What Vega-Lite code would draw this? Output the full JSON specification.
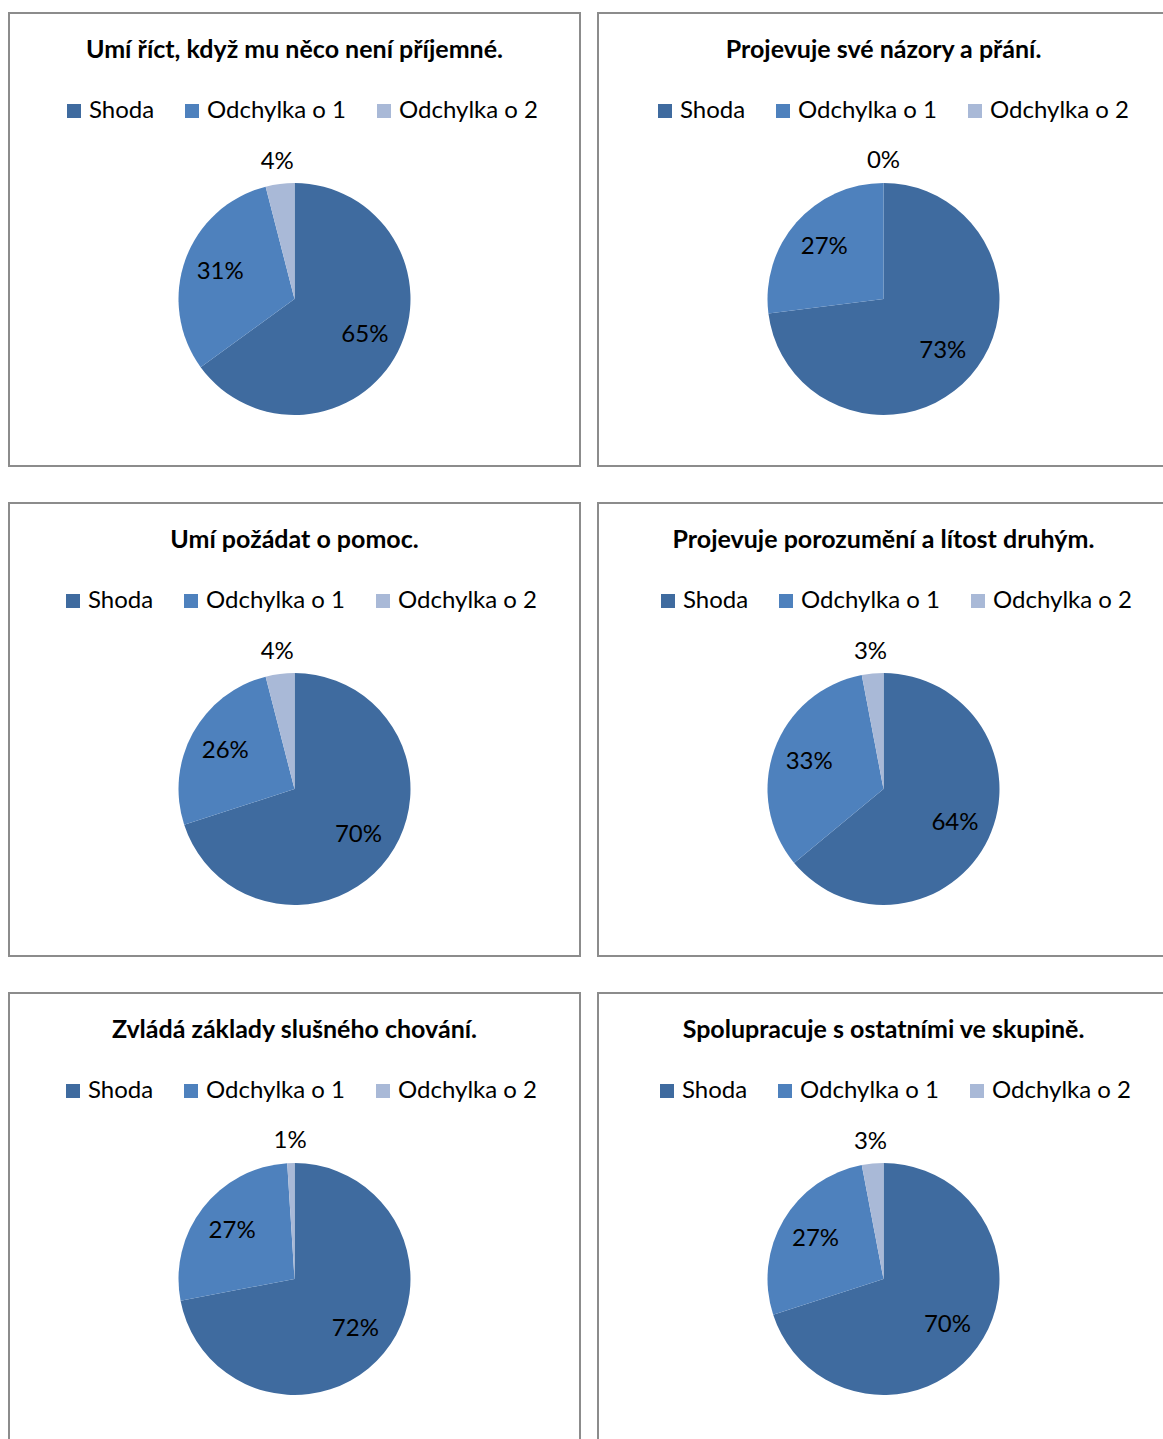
{
  "$schema": "https://vega.github.io/schema/vega-lite/v6.json",
  "padding": {"left": 8, "top": 12, "right": 0, "bottom": 0},
  "background": "white",
  "datasets": {
    "pies": [
      {"q": 1, "category": "Shoda", "rank": 1, "share": 0.65},
      {"q": 1, "category": "Odchylka o 1", "rank": 2, "share": 0.31},
      {"q": 1, "category": "Odchylka o 2", "rank": 3, "share": 0.04},
      {"q": 2, "category": "Shoda", "rank": 1, "share": 0.73},
      {"q": 2, "category": "Odchylka o 1", "rank": 2, "share": 0.27},
      {"q": 2, "category": "Odchylka o 2", "rank": 3, "share": 0.0},
      {"q": 3, "category": "Shoda", "rank": 1, "share": 0.70},
      {"q": 3, "category": "Odchylka o 1", "rank": 2, "share": 0.26},
      {"q": 3, "category": "Odchylka o 2", "rank": 3, "share": 0.04},
      {"q": 4, "category": "Shoda", "rank": 1, "share": 0.64},
      {"q": 4, "category": "Odchylka o 1", "rank": 2, "share": 0.33},
      {"q": 4, "category": "Odchylka o 2", "rank": 3, "share": 0.03},
      {"q": 5, "category": "Shoda", "rank": 1, "share": 0.72},
      {"q": 5, "category": "Odchylka o 1", "rank": 2, "share": 0.27},
      {"q": 5, "category": "Odchylka o 2", "rank": 3, "share": 0.01},
      {"q": 6, "category": "Shoda", "rank": 1, "share": 0.70},
      {"q": 6, "category": "Odchylka o 1", "rank": 2, "share": 0.27},
      {"q": 6, "category": "Odchylka o 2", "rank": 3, "share": 0.03}
    ]
  },
  "columns": 2,
  "spacing": {"row": 35, "column": 16},
  "resolve": {"legend": {"color": "independent"}},
  "concat": [
    {
      "title": "Umí říct, když mu něco není příjemné.",
      "width": 571, "height": 453,
      "view": {"stroke": "#8C8C8C", "strokeWidth": 2, "fill": "white"},
      "data": {"name": "pies"},
      "transform": [{"filter": "datum.q == 1"}],
      "encoding": {
        "theta": {"field": "share", "type": "quantitative", "stack": true},
        "order": {"field": "rank", "type": "quantitative"},
        "color": {"field": "category", "type": "nominal", "scale": {"domain": ["Shoda", "Odchylka o 1", "Odchylka o 2"], "range": ["#3F6B9F", "#4E81BD", "#A9B9D7"]}, "legend": {"orient": "none", "legendX": 53, "legendY": 86, "direction": "horizontal", "title": null}}
      },
      "layer": [
        {"mark": {"type": "arc", "y": 286, "outerRadius": 116}},
        {"mark": {"type": "text", "y": 286, "radius": {"expr": "datum.share < 0.1 ? 138 : 79"}, "fontSize": 24, "font": "Lato", "color": "#000000"}, "encoding": {"text": {"field": "share", "type": "quantitative", "format": ".0%"}, "color": {"value": "#000000"}}}
      ]
    },
    {
      "title": "Projevuje své názory a přání.",
      "width": 571, "height": 453,
      "view": {"stroke": "#8C8C8C", "strokeWidth": 2, "fill": "white"},
      "data": {"name": "pies"},
      "transform": [{"filter": "datum.q == 2"}],
      "encoding": {
        "theta": {"field": "share", "type": "quantitative", "stack": true},
        "order": {"field": "rank", "type": "quantitative"},
        "color": {"field": "category", "type": "nominal", "scale": {"domain": ["Shoda", "Odchylka o 1", "Odchylka o 2"], "range": ["#3F6B9F", "#4E81BD", "#A9B9D7"]}, "legend": {"orient": "none", "legendX": 55, "legendY": 86, "direction": "horizontal", "title": null}}
      },
      "layer": [
        {"mark": {"type": "arc", "y": 286, "outerRadius": 116}},
        {"mark": {"type": "text", "y": 286, "radius": {"expr": "datum.share < 0.1 ? 138 : 79"}, "fontSize": 24, "font": "Lato", "color": "#000000"}, "encoding": {"text": {"field": "share", "type": "quantitative", "format": ".0%"}, "color": {"value": "#000000"}}}
      ]
    },
    {
      "title": "Umí požádat o pomoc.",
      "width": 571, "height": 453,
      "view": {"stroke": "#8C8C8C", "strokeWidth": 2, "fill": "white"},
      "data": {"name": "pies"},
      "transform": [{"filter": "datum.q == 3"}],
      "encoding": {
        "theta": {"field": "share", "type": "quantitative", "stack": true},
        "order": {"field": "rank", "type": "quantitative"},
        "color": {"field": "category", "type": "nominal", "scale": {"domain": ["Shoda", "Odchylka o 1", "Odchylka o 2"], "range": ["#3F6B9F", "#4E81BD", "#A9B9D7"]}, "legend": {"orient": "none", "legendX": 52, "legendY": 86, "direction": "horizontal", "title": null}}
      },
      "layer": [
        {"mark": {"type": "arc", "y": 286, "outerRadius": 116}},
        {"mark": {"type": "text", "y": 286, "radius": {"expr": "datum.share < 0.1 ? 138 : 79"}, "fontSize": 24, "font": "Lato", "color": "#000000"}, "encoding": {"text": {"field": "share", "type": "quantitative", "format": ".0%"}, "color": {"value": "#000000"}}}
      ]
    },
    {
      "title": "Projevuje porozumění a lítost druhým.",
      "width": 571, "height": 453,
      "view": {"stroke": "#8C8C8C", "strokeWidth": 2, "fill": "white"},
      "data": {"name": "pies"},
      "transform": [{"filter": "datum.q == 4"}],
      "encoding": {
        "theta": {"field": "share", "type": "quantitative", "stack": true},
        "order": {"field": "rank", "type": "quantitative"},
        "color": {"field": "category", "type": "nominal", "scale": {"domain": ["Shoda", "Odchylka o 1", "Odchylka o 2"], "range": ["#3F6B9F", "#4E81BD", "#A9B9D7"]}, "legend": {"orient": "none", "legendX": 58, "legendY": 86, "direction": "horizontal", "title": null}}
      },
      "layer": [
        {"mark": {"type": "arc", "y": 286, "outerRadius": 116}},
        {"mark": {"type": "text", "y": 286, "radius": {"expr": "datum.share < 0.1 ? 138 : 79"}, "fontSize": 24, "font": "Lato", "color": "#000000"}, "encoding": {"text": {"field": "share", "type": "quantitative", "format": ".0%"}, "color": {"value": "#000000"}}}
      ]
    },
    {
      "title": "Zvládá základy slušného chování.",
      "width": 571, "height": 453,
      "view": {"stroke": "#8C8C8C", "strokeWidth": 2, "fill": "white"},
      "data": {"name": "pies"},
      "transform": [{"filter": "datum.q == 5"}],
      "encoding": {
        "theta": {"field": "share", "type": "quantitative", "stack": true},
        "order": {"field": "rank", "type": "quantitative"},
        "color": {"field": "category", "type": "nominal", "scale": {"domain": ["Shoda", "Odchylka o 1", "Odchylka o 2"], "range": ["#3F6B9F", "#4E81BD", "#A9B9D7"]}, "legend": {"orient": "none", "legendX": 52, "legendY": 86, "direction": "horizontal", "title": null}}
      },
      "layer": [
        {"mark": {"type": "arc", "y": 286, "outerRadius": 116}},
        {"mark": {"type": "text", "y": 286, "radius": {"expr": "datum.share < 0.1 ? 138 : 79"}, "fontSize": 24, "font": "Lato", "color": "#000000"}, "encoding": {"text": {"field": "share", "type": "quantitative", "format": ".0%"}, "color": {"value": "#000000"}}}
      ]
    },
    {
      "title": "Spolupracuje s ostatními ve skupině.",
      "width": 571, "height": 453,
      "view": {"stroke": "#8C8C8C", "strokeWidth": 2, "fill": "white"},
      "data": {"name": "pies"},
      "transform": [{"filter": "datum.q == 6"}],
      "encoding": {
        "theta": {"field": "share", "type": "quantitative", "stack": true},
        "order": {"field": "rank", "type": "quantitative"},
        "color": {"field": "category", "type": "nominal", "scale": {"domain": ["Shoda", "Odchylka o 1", "Odchylka o 2"], "range": ["#3F6B9F", "#4E81BD", "#A9B9D7"]}, "legend": {"orient": "none", "legendX": 57, "legendY": 86, "direction": "horizontal", "title": null}}
      },
      "layer": [
        {"mark": {"type": "arc", "y": 286, "outerRadius": 116}},
        {"mark": {"type": "text", "y": 286, "radius": {"expr": "datum.share < 0.1 ? 138 : 79"}, "fontSize": 24, "font": "Lato", "color": "#000000"}, "encoding": {"text": {"field": "share", "type": "quantitative", "format": ".0%"}, "color": {"value": "#000000"}}}
      ]
    }
  ],
  "config": {
    "view": {"stroke": "#8C8C8C", "strokeWidth": 2, "fill": "white"},
    "title": {"font": "Lato", "fontSize": 25, "fontWeight": "bold", "color": "#000000", "anchor": "middle", "frame": "group", "offset": -50, "baseline": "middle"},
    "legend": {"symbolType": "square", "symbolSize": 196, "symbolStrokeWidth": 0, "symbolOpacity": 1, "labelFont": "Lato", "labelFontSize": 24, "labelColor": "#000000", "labelOffset": 3, "columnPadding": 25, "labelLimit": 400}
  }
}
